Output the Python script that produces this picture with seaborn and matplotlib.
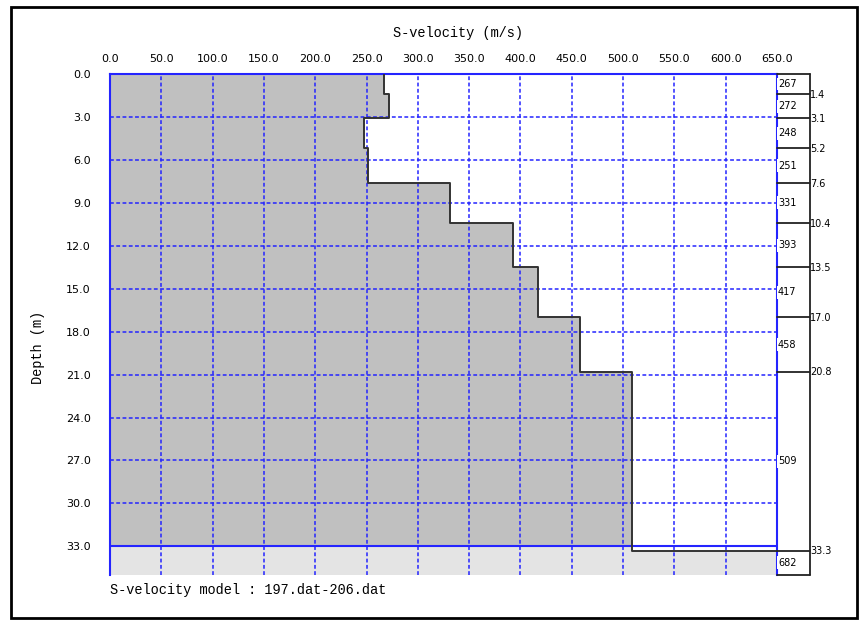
import numpy as np
import pandas as pd
import matplotlib
matplotlib.use("Agg")
import matplotlib.pyplot as plt
import seaborn as sns
from matplotlib.patches import Rectangle

# ---- data ----
velocities = [267, 272, 248, 251, 331, 393, 417, 458, 509, 682]   # m/s, last = half-space
boundaries = [1.4, 3.1, 5.2, 7.6, 10.4, 13.5, 17.0, 20.8, 33.3]    # layer bottoms (m)
x_ticks = [0, 50, 100, 150, 200, 250, 300, 350, 400, 450, 500, 550, 600, 650]
y_ticks = [0, 3, 6, 9, 12, 15, 18, 21, 24, 27, 30, 33]
title = "S-velocity (m/s)"
ylabel = "Depth (m)"
footer = "S-velocity model : 197.dat-206.dat"

# ---- layout ----
W, H = 866, 624
XMAX, YMAX = 650, 35
BLUE = "#2424ff"
DARK = "#c0c0c0"
LIGHT = "#e4e4e4"

sns.set_style("white")
plt.rcParams["font.family"] = ["DejaVu Sans"]
plt.rcParams["text.color"] = "black"
plt.rcParams["xtick.color"] = "black"
plt.rcParams["ytick.color"] = "black"

fig = plt.figure(figsize=(W / 100, H / 100), dpi=100)
ax = fig.add_axes([110 / W, 1 - 575 / H, 667 / W, 501 / H])

tops = [0.0] + boundaries
bots = boundaries + [YMAX]
step_y, step_x = [], []
for v, t, b in zip(velocities, tops, bots):
    step_y += [t, b]
    step_x += [v, v]
step_y = np.array(step_y)
step_x = np.array(step_x, dtype=float)
df = pd.DataFrame({"vs": step_x, "depth": step_y})

# fills
ax.fill_betweenx(np.minimum(step_y, 33.0), 0, step_x, color=DARK, lw=0, zorder=1)
ax.fill_betweenx(np.maximum(step_y, 33.0), 0, step_x, color=LIGHT, lw=0, zorder=1)

# profile line
sns.lineplot(data=df, x="vs", y="depth", sort=False, estimator=None,
             color="#333333", lw=1.4, ax=ax, zorder=4)

ax.set_xlim(0, XMAX)
ax.set_ylim(YMAX, 0)
ax.set_xlabel("")
ax.set_ylabel("")

ax.xaxis.tick_top()
ax.set_xticks(x_ticks)
ax.set_xticklabels([f"{v:.1f}" for v in x_ticks], fontsize=8, color="black")
ax.set_yticks(y_ticks)
ax.set_yticklabels([f"{v:.1f}" for v in y_ticks], fontsize=8, color="black")
ax.tick_params(axis="x", length=0, pad=7)
ax.tick_params(axis="y", length=0, pad=14)

ax.grid(True, color=BLUE, linestyle=(0, (2.5, 1.6)), lw=1.1, zorder=2)
ax.set_axisbelow(False)
for gl in ax.get_xgridlines() + ax.get_ygridlines():
    gl.set_zorder(2)
ax.axhline(33.0, color=BLUE, lw=1.5, zorder=3)

for s in ["top", "left", "right"]:
    ax.spines[s].set_color(BLUE)
    ax.spines[s].set_linewidth(1.5)
ax.spines["bottom"].set_visible(False)

# right-hand layer box
BOX_R = XMAX + 32
kw = dict(color="#222222", lw=1.3, clip_on=False, zorder=5)
ax.plot([XMAX, BOX_R], [0, 0], **kw)
ax.plot([BOX_R, BOX_R], [0, YMAX], **kw)
ax.plot([XMAX, BOX_R], [YMAX, YMAX], **kw)
for b in boundaries:
    ax.plot([XMAX, BOX_R], [b, b], **kw)
    ax.text(BOX_R + 0.5, b + 0.05, f"{b:.1f}", fontsize=7, ha="left", va="center",
            clip_on=False, zorder=6)
for v, t, b in zip(velocities, tops, bots):
    ax.text(XMAX + 1, (t + b) / 2, f"{v}", fontsize=7, ha="left", va="center",
            clip_on=False, zorder=6,
            bbox=dict(boxstyle="square,pad=0.15", fc="white", ec="none"))

mono = ["Liberation Mono", "DejaVu Sans Mono"]
fig.text(458 / W, 1 - 33 / H, title, ha="center", va="center", fontsize=9.8, family=mono)
fig.text(38 / W, 1 - 347 / H, ylabel, ha="center", va="center", rotation=90,
         fontsize=9.8, family=mono)
fig.text(110 / W, 1 - 590 / H, footer, ha="left", va="center", fontsize=9.8, family=mono)

fig.patches.append(Rectangle((11 / W, 1 - 618 / H), 846 / W, 611 / H, transform=fig.transFigure,
                             fill=False, ec="black", lw=2))

fig.savefig("out.png", dpi=100)
